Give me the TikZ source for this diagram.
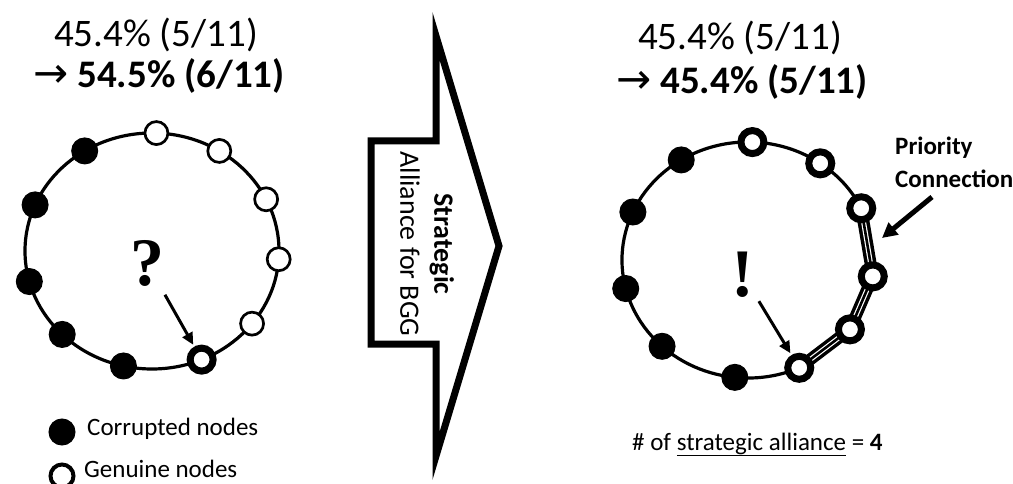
\documentclass[tikz,border=0pt]{standalone}
\usepackage{fontspec}
\setmainfont{Carlito}
\newfontfamily\arrowfont{DejaVu Sans}
\newfontfamily\markfont{Liberation Serif}
\usetikzlibrary{arrows.meta, backgrounds}

\tikzset{
  badnode/.style={draw,circle,fill=black,line width=1pt,minimum size=26pt,inner sep=0pt},
  goodnode/.style={draw,circle,fill=white,line width=2.7pt,minimum size=23pt,inner sep=0pt},
  allynode/.style={draw,circle,fill=white,line width=7pt,minimum size=23pt,inner sep=0pt},
  ring/.style={line width=3.2pt},
  pointer/.style={line width=3pt,-{Triangle[length=12pt,width=11pt]}},
  linkband/.style={line width=12pt,postaction={draw=white,line width=5pt},postaction={draw=black,line width=2.6pt}},
  bigtext/.style={font=\fontsize{39}{47}\selectfont,anchor=base,inner sep=0pt},
  smalltext/.style={font=\fontsize{25}{30}\selectfont,anchor=base west,inner sep=0pt},
  marktext/.style={font=\markfont\bfseries\fontsize{68}{70}\selectfont}
}

\begin{document}
\begin{tikzpicture}[x=1pt,y=1pt]
\useasboundingbox (0,0) rectangle (1013,-484);
\color{black}

% before
\node[bigtext] (oldL) at (156,-47) {45.4\% (5/11)};
\node[bigtext] (newL) at (159,-88) {{\arrowfont\fontsize{42}{47}\selectfont →} \textbf{54.5\% (6/11)}};

\begin{scope}[shift={(152,-251)}]
\draw[ring] (0,0) ellipse [x radius=127, y radius=118];
\node[goodnode] (L1) at (88:127 and 118) {};
\node[goodnode] (L2) at (58:127 and 118) {};
\node[goodnode] (L3) at (26:127 and 118) {};
\node[goodnode] (L4) at (-4:127 and 118) {};
\node[goodnode] (L5) at (-38:127 and 118) {};
\node[allynode] (L6) at (-67:127 and 118) {};
\node[badnode] (L7) at (-103:127 and 118) {};
\node[badnode] (L8) at (-135:127 and 118) {};
\node[badnode] (L9) at (195:127 and 118) {};
\node[badnode] (L10) at (157:127 and 118) {};
\node[badnode] (L11) at (122:127 and 118) {};
\end{scope}

\node[marktext] (qmark) at (147,-263) {?};
\draw[pointer,shorten <=6pt,shorten >=2pt] (qmark) -- (L6);

% legend
\node[badnode] (keybad) at (62,-432) {};
\node[goodnode,line width=4pt] (keygood) at (62,-476) {};
\node[smalltext] (keybadtext) at (87,-435) {Corrupted nodes};
\node[smalltext] (keygoodtext) at (84,-477) {Genuine nodes};

% the big arrow
\draw[line width=7pt,line join=miter] (371,-141) -- (436,-141) -- (436,-36) -- (499,-246)
  -- (436,-456) -- (436,-344) -- (371,-344) -- cycle;
\node[rotate=-90,align=center,font=\fontsize{28}{34}\selectfont] (sa) at (427,-244)
  {\textbf{Strategic}\\Alliance for BGG};

% after
\node[bigtext] (oldR) at (740,-50) {45.4\% (5/11)};
\node[bigtext] (newR) at (742,-94) {{\arrowfont\fontsize{42}{47}\selectfont →} \textbf{45.4\% (5/11)}};

\begin{scope}[shift={(748,-260)}]
\draw[ring] (26:126 and 118) arc[start angle=26, end angle=294, x radius=126, y radius=118];
\node[allynode] (R1) at (88:126 and 118) {};
\node[allynode] (R2) at (55:126 and 118) {};
\node[allynode] (R3) at (26:126 and 118) {};
\node[allynode] (R4) at (-8:126 and 118) {};
\node[allynode] (R5) at (-36:126 and 118) {};
\node[allynode] (R6) at (-66:126 and 118) {};
\node[badnode] (R7) at (-96:126 and 118) {};
\node[badnode] (R8) at (-133:126 and 118) {};
\node[badnode] (R9) at (194:126 and 118) {};
\node[badnode] (R10) at (156:126 and 118) {};
\node[badnode] (R11) at (122:126 and 118) {};
\end{scope}

\begin{scope}[on background layer]
\draw[linkband] (R3.center) -- (R4.center);
\draw[linkband] (R4.center) -- (R5.center);
\draw[linkband] (R5.center) -- (R6.center);
\end{scope}

\node[marktext] (emark) at (743,-275) {!};
\draw[pointer,shorten <=2pt,shorten >=2pt] (emark) -- (R6);

\node[smalltext,font=\bfseries\fontsize{25}{33}\selectfont,align=left] (prio) at (895,-188) {Priority\\Connection};
\coordinate (pctail) at (932,-197);
\coordinate (pchead) at (882,-238);
\draw[line width=5pt,-{Triangle[length=15pt,width=15pt]}] (pctail) -- (pchead);

\node[smalltext] (count) at (632,-450) {\# of \underline{strategic alliance} = \textbf{4}};

\end{tikzpicture}
\end{document}
